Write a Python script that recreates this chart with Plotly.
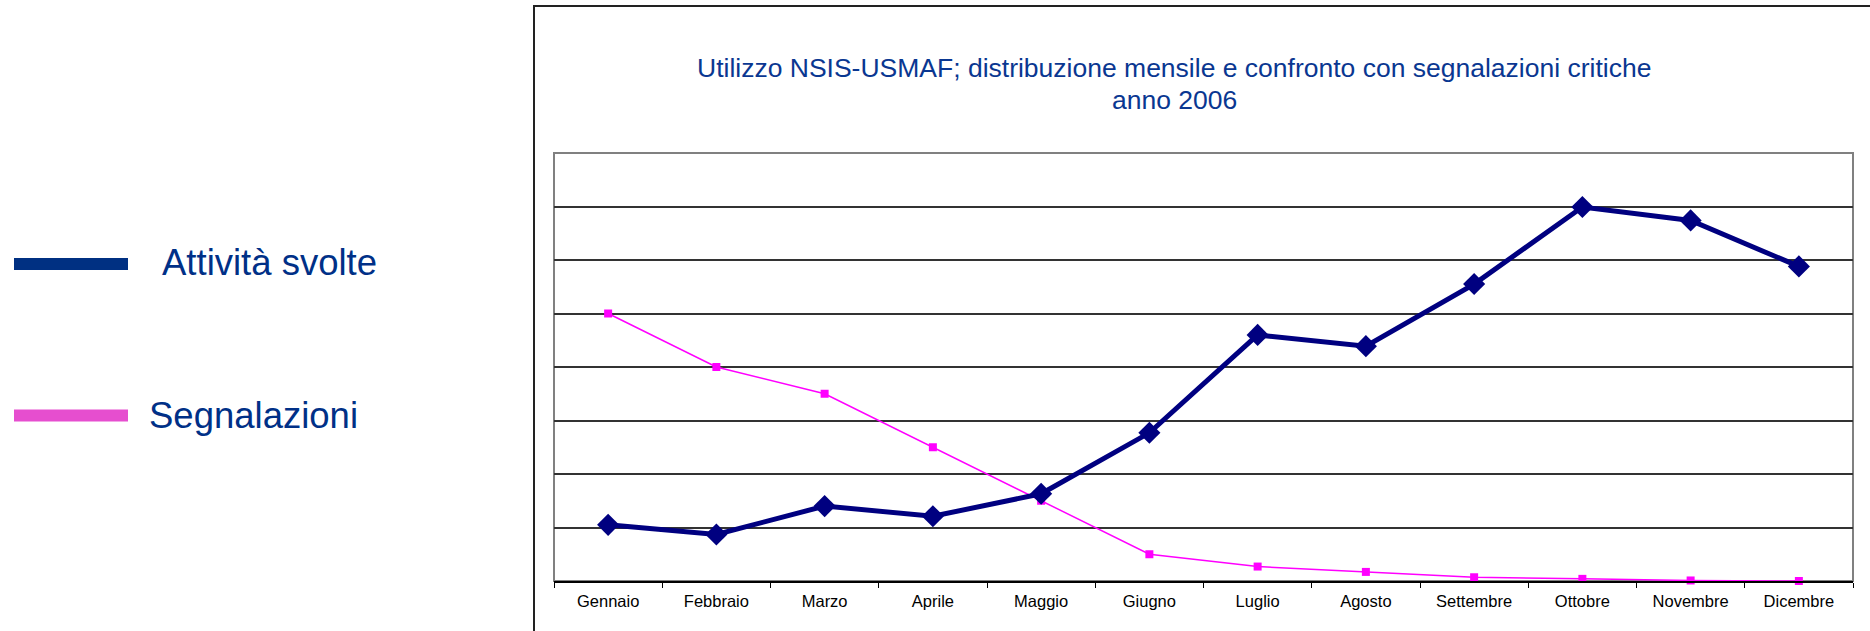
import plotly.graph_objects as go

# ---- data ----
months = ["Gennaio", "Febbraio", "Marzo", "Aprile", "Maggio", "Giugno",
          "Luglio", "Agosto", "Settembre", "Ottobre", "Novembre", "Dicembre"]
attivita = [1.05, 0.87, 1.40, 1.21, 1.63, 2.77, 4.60, 4.39, 5.55, 6.99, 6.74, 5.88]
segnalazioni = [5.0, 4.0, 3.5, 2.5, 1.5, 0.5, 0.27, 0.17, 0.07, 0.04, 0.01, 0.0]
title_line1 = "Utilizzo NSIS-USMAF; distribuzione mensile e confronto con segnalazioni critiche"
title_line2 = "anno 2006"
legend_labels = ["Attività svolte", "Segnalazioni"]

W, H = 1870, 631
L, R, T, B = 554, 1853, 153, 581
PW, PH = R - L, B - T


def px(x):
    return (x - L) / PW


def py(y):
    return (B - y) / PH


FONT = "Arial, Liberation Sans, sans-serif"
NAVY = "#000080"
MAGENTA = "#FF00FF"
TXT = "#0a3791"

fig = go.Figure()
fig.add_trace(go.Scatter(
    x=months, y=segnalazioni, mode="lines+markers",
    line=dict(color=MAGENTA, width=1.5),
    marker=dict(symbol="square", size=8, color=MAGENTA),
    showlegend=False, cliponaxis=False))
fig.add_trace(go.Scatter(
    x=months, y=attivita, mode="lines+markers",
    line=dict(color=NAVY, width=5),
    marker=dict(symbol="diamond", size=17, color=NAVY),
    showlegend=False, cliponaxis=False))

shapes = []
# outer frame (extends beyond the visible page on right/bottom)
shapes.append(dict(type="rect", xref="paper", yref="paper",
                   x0=px(534), x1=px(1900), y0=py(660), y1=py(6),
                   line=dict(color="#222222", width=2), layer="below"))
# plot area border
shapes.append(dict(type="rect", xref="paper", yref="paper",
                   x0=0, x1=1, y0=0, y1=1,
                   line=dict(color="#808080", width=2), layer="below"))
# legend lines
shapes.append(dict(type="line", xref="paper", yref="paper",
                   x0=px(14), x1=px(128), y0=py(264), y1=py(264),
                   line=dict(color="#003082", width=12)))
shapes.append(dict(type="line", xref="paper", yref="paper",
                   x0=px(14), x1=px(128), y0=py(415.5), y1=py(415.5),
                   line=dict(color="#E64ECF", width=12)))

annotations = [
    dict(text=title_line1, xref="paper", yref="paper", x=px(1174), y=py(68),
         xanchor="center", yanchor="middle", showarrow=False,
         font=dict(family=FONT, size=26.5, color=TXT)),
    dict(text=title_line2, xref="paper", yref="paper", x=px(1174), y=py(100),
         xanchor="center", yanchor="middle", showarrow=False,
         font=dict(family=FONT, size=26.5, color=TXT)),
    dict(text=legend_labels[0], xref="paper", yref="paper", x=px(160), y=py(262),
         xanchor="left", yanchor="middle", showarrow=False,
         font=dict(family=FONT, size=36.5, color="#003087")),
    dict(text=legend_labels[1], xref="paper", yref="paper", x=px(147), y=py(416),
         xanchor="left", yanchor="middle", showarrow=False,
         font=dict(family=FONT, size=36.5, color="#003087")),
]

fig.update_layout(
    width=W, height=H,
    margin=dict(l=L, r=W - R, t=T, b=H - B, pad=0),
    paper_bgcolor="white", plot_bgcolor="white",
    shapes=shapes, annotations=annotations,
    xaxis=dict(type="category", range=[-0.5, 11.5], showgrid=False,
               showline=True, linecolor="black", linewidth=1.5,
               ticks="outside", tickson="boundaries", ticklen=5,
               tickcolor="black", tickwidth=1,
               tickfont=dict(family=FONT, size=16.5, color="black"),
               ticklabelstandoff=4, zeroline=False, fixedrange=True),
    yaxis=dict(range=[0, 8], dtick=1, showgrid=True, gridcolor="#333333",
               gridwidth=1.5, showticklabels=False, ticks="",
               zeroline=False, showline=False, fixedrange=True),
)

fig.write_html("out.html", config={"displayModeBar": False},
               post_script="document.body.style.margin='0';document.body.style.overflow='hidden';")
